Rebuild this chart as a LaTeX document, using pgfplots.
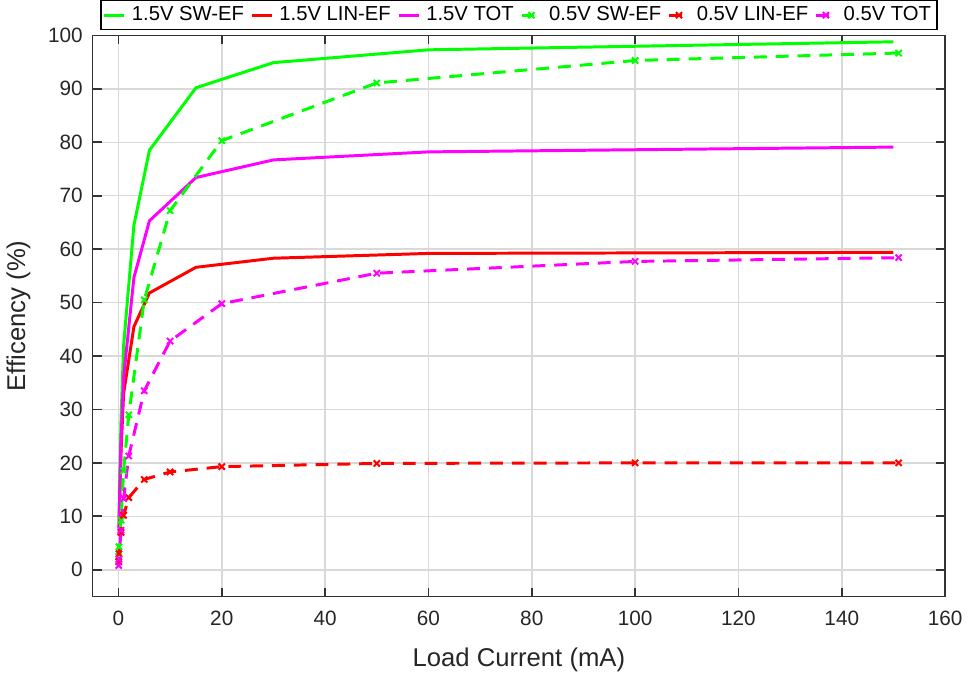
\documentclass[border=0pt]{standalone}
\usepackage{fontspec}
\setmainfont{Liberation Sans}
\usepackage{pgfplots}
\pgfplotsset{compat=1.18}
\definecolor{mgreen}{rgb}{0,1,0}
\definecolor{mred}{rgb}{1,0,0}
\definecolor{mmag}{rgb}{1,0,1}
\begin{document}
\begin{tikzpicture}
\begin{axis}[
  width=430bp, height=283bp, scale only axis,
  xmin=-5, xmax=160, ymin=-5, ymax=100,
  xtick={0,20,...,160}, ytick={0,10,...,100},
  grid=major, major grid style={line width=0.75bp, black!15},
  axis line style={line width=0.9bp, black!80},
  tick style={line width=0.9bp, black!80},
  major tick length=4.5bp, tick align=inside,
  ticklabel style={font=\fontsize{10.5}{12}\selectfont, text=black!85},
  xticklabel style={yshift=-4bp},
  yticklabel style={xshift=-1.5bp},
  /pgf/number format/assume math mode=true,
  xlabel={Load Current (mA)}, ylabel={Efficency (\%)},
  label style={font=\fontsize{13}{15}\selectfont, text=black!85},
  xlabel style={yshift=-4bp},
  ylabel style={yshift=2bp},
  legend columns=6,
  legend style={at={(0.5,1)}, anchor=south, yshift=2.5bp,
    font=\fontsize{10.25}{12}\selectfont, draw=black, line width=0.75bp,
    inner sep=1bp,
    /tikz/every even column/.append style={column sep=1.2bp},
    /tikz/every odd column/.append style={column sep=1.2bp}},
  legend image code/.code={\draw[mark repeat=2,mark phase=2] plot coordinates {(0bp,0bp)(5bp,0bp)(10bp,0bp)};},
  every axis plot/.append style={line width=1.5bp},
]
% 1.5 V
\addplot[mgreen, no marks] coordinates {
  (0.1,10) (0.5,28) (1,42) (3,64.5) (6,78.5) (15,90.2) (30,94.9) (60,97.3) (150,98.8)};
\addlegendentry{1.5V SW-EF}
\addplot[mred, no marks] coordinates {
  (0.1,8) (0.5,22) (1,33) (3,45.5) (6,51.8) (15,56.6) (30,58.3) (60,59.2) (150,59.4)};
\addlegendentry{1.5V LIN-EF}
\addplot[mmag, no marks] coordinates {
  (0.1,6.5) (0.5,24) (1,36) (3,54.7) (6,65.3) (15,73.4) (30,76.7) (60,78.2) (150,79.1)};
\addlegendentry{1.5V TOT}
% 0.5 V
\addplot[mgreen, dash pattern=on 6.5bp off 4.5bp, mark=x, mark size=2.2bp, mark options={solid, line width=1bp}] coordinates {
  (0.05,2.5) (0.1,4.3) (0.5,9.3) (1,18.5) (2,29) (5,50.5) (10,67.2) (20,80.3) (50,91.1) (100,95.3) (151,96.7)};
\addlegendentry{0.5V SW-EF}
\addplot[mred, dash pattern=on 6.5bp off 4.5bp, mark=x, mark size=2.2bp, mark options={solid, line width=1bp}] coordinates {
  (0.05,1.5) (0.1,3) (0.5,7) (1,10.2) (2,13.5) (5,16.9) (10,18.3) (20,19.3) (50,19.9) (100,20) (151,20)};
\addlegendentry{0.5V LIN-EF}
\addplot[mmag, dash pattern=on 6.5bp off 4.5bp, mark=x, mark size=2.2bp, mark options={solid, line width=1bp}] coordinates {
  (0.05,0.8) (0.1,2) (0.5,7.4) (1,13.3) (2,21.3) (5,33.5) (10,42.8) (20,49.8) (50,55.5) (100,57.7) (151,58.4)};
\addlegendentry{0.5V TOT}
\end{axis}
\end{tikzpicture}
\end{document}
